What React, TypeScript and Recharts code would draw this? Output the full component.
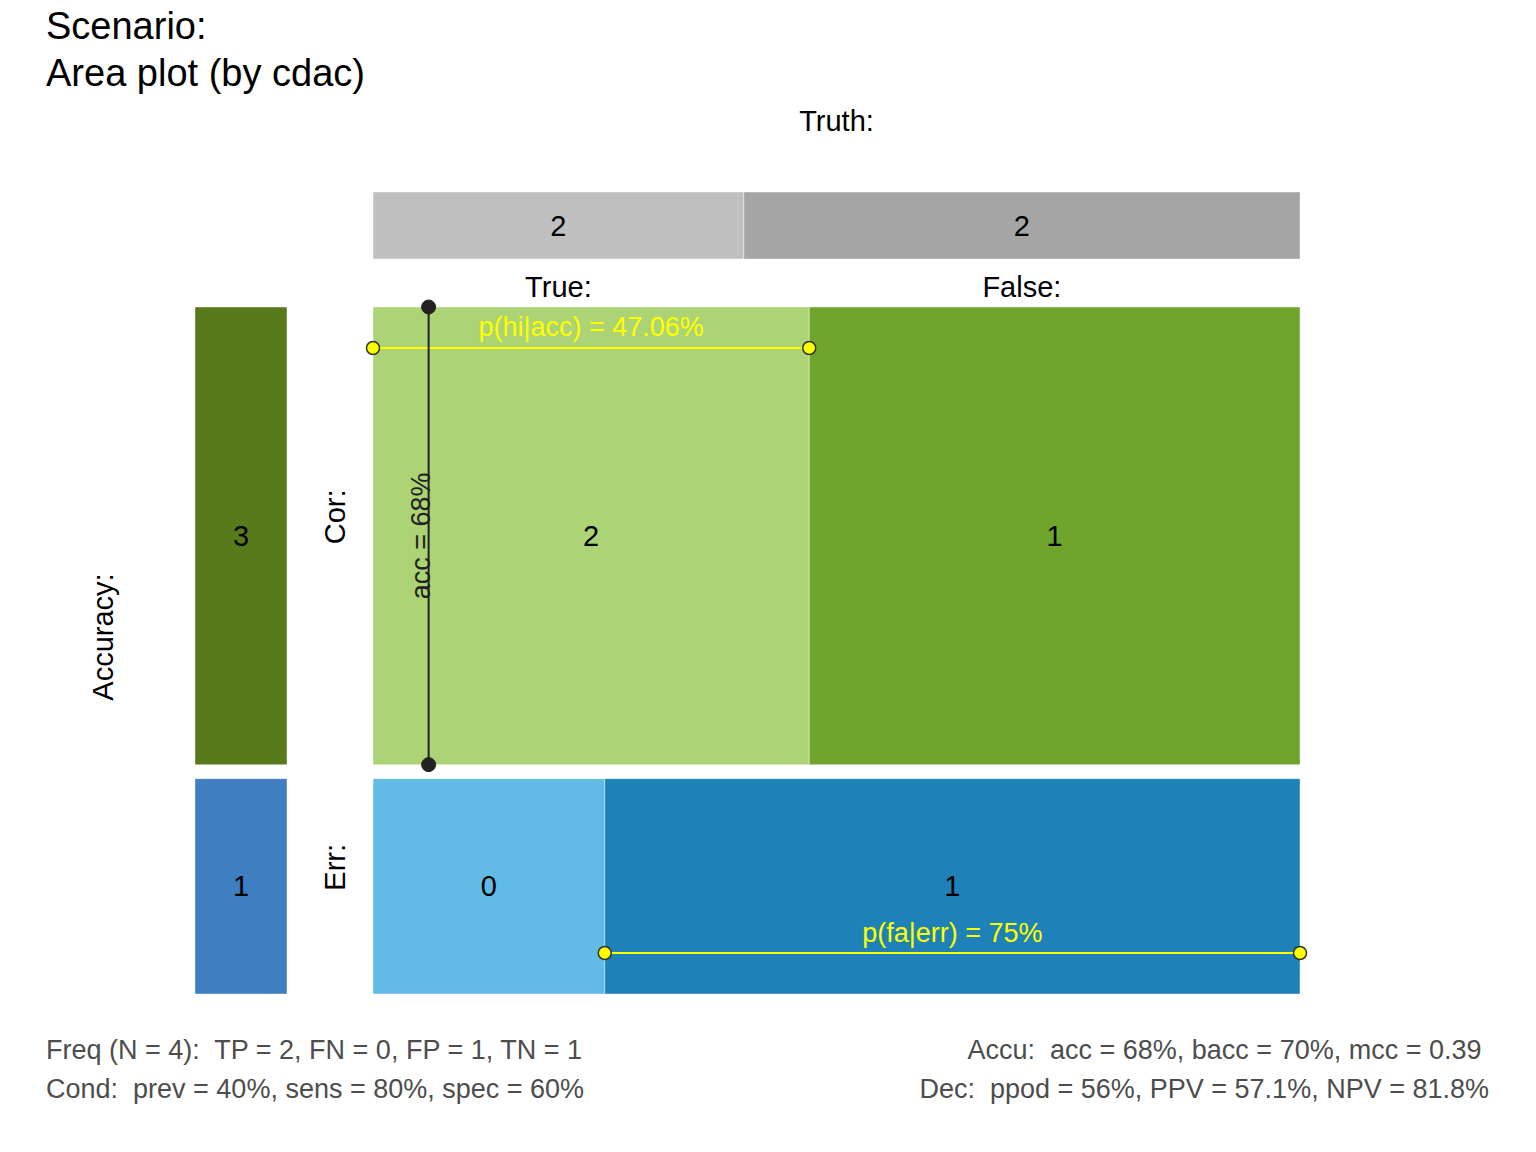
import React from "react";
import { ComposedChart, XAxis, YAxis, ReferenceArea, ReferenceLine, ReferenceDot } from "recharts";

// scenario values
const N = 4;
const truthLabels = ["True:", "False:"];
const truthCounts = [2, 2];
const truthShares = [0.4, 0.6]; // prev

const accLabels = ["Cor:", "Err:"];
const accCounts = [3, 1];
const accShares = [0.68, 0.32];

const corCounts = [2, 1]; // hi, cr
const corShares = [0.4706, 0.5294];
const errCounts = [0, 1]; // mi, fa
const errShares = [0.25, 0.75];

const corLabel = "p(hi|acc) = 47.06%";
const errLabel = "p(fa|err) = 75%";
const accLabel = "acc = 68%";

const titleLines = ["Scenario:", "Area plot (by cdac)"];
const footLeft = ["Freq (N = " + N + "):  TP = 2, FN = 0, FP = 1, TN = 1", "Cond:  prev = 40%, sens = 80%, spec = 60%"];
const footRight = ["Accu:  acc = 68%, bacc = 70%, mcc = 0.39 ", "Dec:  ppod = 56%, PPV = 57.1%, NPV = 81.8%"];

const truthColors = ["#c0c0c0", "#a5a5a5"];
const accColors = ["#587a1b", "#407ec2"];
const corColors = ["#acd375", "#6fa52d"];
const errColors = ["#62bbe5", "#1e82b9"];

// layout (page pixels -> plot units)
const W = 1536;
const H = 1152;
const PX0 = 373;
const PW = 927;
const PY0 = 994;
const PH = 673;
const fx = (px: number) => (px - PX0) / PW;
const fy = (py: number) => (PY0 - py) / PH;
const GAP = 14 / PH;

const FONT = "'Liberation Sans', Arial, Helvetica, sans-serif";
const LAB = 29;
const SUB = 27;

const txt = (value: string, size = LAB, color = "#000", angle = 0) => (props: any) => {
  const vb = props.viewBox || { x: props.x, y: props.y, width: 0, height: 0 };
  const x = vb.x + (vb.width || 0) / 2;
  const y = vb.y + (vb.height || 0) / 2;
  return (
    <text
      x={x}
      y={y}
      textAnchor="middle"
      dominantBaseline="central"
      fontSize={size}
      fontFamily={FONT}
      fill={color}
      transform={angle ? `rotate(${angle} ${x} ${y})` : undefined}
    >
      {value}
    </text>
  );
};

const AreaPlot = () => {
  const errTop = accShares[1];
  const corBot = accShares[1] + GAP;
  const corTop = 1 + GAP;
  const truthBot = fy(259);
  const truthTop = fy(192);
  const leftX1 = fx(195);
  const leftX2 = fx(287);
  const truthSplit = truthShares[0];
  const corSplit = corShares[0];
  const errSplit = errShares[0];
  const accX = 0.06;
  const corLineY = corTop - 41 / PH;
  const errLineY = 41 / PH;
  const labX = fx(335);

  const cell = (key: string, x1: number, x2: number, y1: number, y2: number, fill: string, value: string | number) => (
    <ReferenceArea
      key={key}
      x1={x1}
      x2={x2}
      y1={y1}
      y2={y2}
      fill={fill}
      fillOpacity={1}
      stroke="#ffffff"
      strokeOpacity={0.4}
      strokeWidth={1}
      ifOverflow="visible"
      label={txt(String(value))}
    />
  );

  const note = (key: string, x: number, y: number, value: string, size = LAB, color = "#000", angle = 0) => (
    <ReferenceDot key={key} x={x} y={y} r={0} fill="none" stroke="none" ifOverflow="visible" label={txt(value, size, color, angle)} />
  );

  return (
    <ComposedChart width={W} height={H} data={[]} margin={{ top: 0, right: 0, bottom: 0, left: 0 }}>
      <XAxis type="number" dataKey="x" domain={[fx(0), fx(W)]} hide height={0} allowDataOverflow />
      <YAxis type="number" dataKey="y" domain={[fy(H), fy(0)]} hide width={0} allowDataOverflow />

      {/* truth bar */}
      {cell("t0", 0, truthSplit, truthBot, truthTop, truthColors[0], truthCounts[0])}
      {cell("t1", truthSplit, 1, truthBot, truthTop, truthColors[1], truthCounts[1])}

      {/* accuracy bar */}
      {cell("a0", leftX1, leftX2, corBot, corTop, accColors[0], accCounts[0])}
      {cell("a1", leftX1, leftX2, 0, errTop, accColors[1], accCounts[1])}

      {/* main cells */}
      {cell("c0", 0, corSplit, corBot, corTop, corColors[0], corCounts[0])}
      {cell("c1", corSplit, 1, corBot, corTop, corColors[1], corCounts[1])}
      {cell("e0", 0, errSplit, 0, errTop, errColors[0], errCounts[0])}
      {cell("e1", errSplit, 1, 0, errTop, errColors[1], errCounts[1])}

      {/* conditional probability lines */}
      <ReferenceLine segment={[{ x: 0, y: corLineY }, { x: corSplit, y: corLineY }]} stroke="#ffff00" strokeWidth={2} ifOverflow="visible" />
      <ReferenceLine segment={[{ x: errSplit, y: errLineY }, { x: 1, y: errLineY }]} stroke="#ffff00" strokeWidth={2} ifOverflow="visible" />
      <ReferenceLine segment={[{ x: accX, y: corBot }, { x: accX, y: corTop }]} stroke="#222222" strokeWidth={2} ifOverflow="visible" />

      <ReferenceDot x={0} y={corLineY} r={6.5} fill="#ffff00" stroke="#333" strokeWidth={1.5} ifOverflow="visible" />
      <ReferenceDot x={corSplit} y={corLineY} r={6.5} fill="#ffff00" stroke="#333" strokeWidth={1.5} ifOverflow="visible" />
      <ReferenceDot x={errSplit} y={errLineY} r={6.5} fill="#ffff00" stroke="#333" strokeWidth={1.5} ifOverflow="visible" />
      <ReferenceDot x={1} y={errLineY} r={6.5} fill="#ffff00" stroke="#333" strokeWidth={1.5} ifOverflow="visible" />
      <ReferenceDot x={accX} y={corBot} r={7} fill="#222" stroke="#222" ifOverflow="visible" />
      <ReferenceDot x={accX} y={corTop} r={7} fill="#222" stroke="#222" ifOverflow="visible" />

      {/* text */}
      {note("truth", 0.5, fy(121), "Truth:")}
      {note("tl0", truthSplit / 2, fy(287), truthLabels[0])}
      {note("tl1", (truthSplit + 1) / 2, fy(287), truthLabels[1])}
      {note("al0", labX, (corBot + corTop) / 2 + 19 / PH, accLabels[0], LAB, "#000", -90)}
      {note("al1", labX, errTop / 2 + 19 / PH, accLabels[1], LAB, "#000", -90)}
      {note("acc", fx(103), fy(637), "Accuracy:", LAB, "#000", -90)}
      {note("corp", corSplit / 2, corLineY + 21 / PH, corLabel, SUB, "#ffff00")}
      {note("errp", (errSplit + 1) / 2, errLineY + 20 / PH, errLabel, SUB, "#ffff00")}
      {note("accp", accX - 8 / PW, (corBot + corTop) / 2, accLabel, SUB, "#222", -90)}
    </ComposedChart>
  );
};

export default function App() {
  return (
    <div style={{ position: "absolute", left: 0, top: 0, width: W, height: H, background: "#fff", fontFamily: FONT }}>
      <AreaPlot />
      <div style={{ position: "absolute", left: 46, top: 3, fontSize: 38, lineHeight: "47px", color: "#000", whiteSpace: "pre" }}>
        {titleLines.map((l) => (
          <div key={l}>{l}</div>
        ))}
      </div>
      <div style={{ position: "absolute", left: 46, top: 1031, fontSize: SUB, lineHeight: "39px", color: "#4d4d4d", whiteSpace: "pre" }}>
        {footLeft.map((l) => (
          <div key={l}>{l}</div>
        ))}
      </div>
      <div style={{ position: "absolute", right: W - 1489, top: 1031, fontSize: SUB, lineHeight: "39px", color: "#4d4d4d", whiteSpace: "pre", textAlign: "right" }}>
        {footRight.map((l) => (
          <div key={l}>{l}</div>
        ))}
      </div>
    </div>
  );
}
